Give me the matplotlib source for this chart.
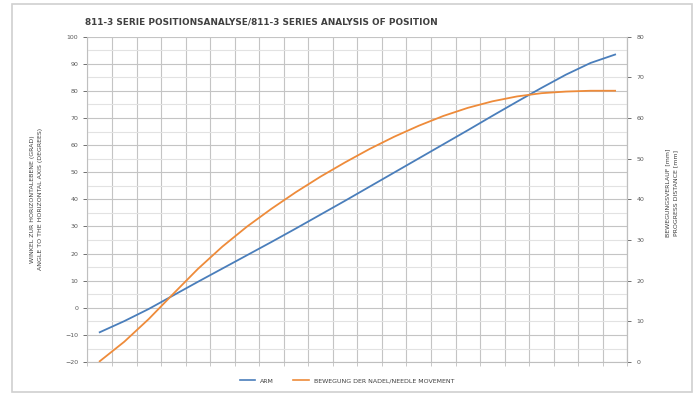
import matplotlib
matplotlib.use("Agg")
import matplotlib.pyplot as plt
import numpy as np
from matplotlib.lines import Line2D
from matplotlib.patches import Rectangle

# values, one per category (22 steps)
arm_angle = [-9.0, -4.9, -0.4, 4.6, 9.6, 14.5, 19.4, 24.3, 29.3, 34.4, 39.5,
             44.7, 49.9, 55.1, 60.3, 65.5, 70.8, 76.0, 81.1, 86.0, 90.3, 93.4]
needle_mm = [0.2, 5.0, 10.6, 16.8, 22.9, 28.4, 33.3, 37.7, 41.8, 45.6, 49.1,
             52.4, 55.4, 58.1, 60.5, 62.5, 64.1, 65.3, 66.1, 66.5, 66.7, 66.7]
left_ticks = list(range(-20, 101, 10))
right_ticks = list(range(0, 81, 10))

title = "811-3 SERIE POSITIONSANALYSE/811-3 SERIES ANALYSIS OF POSITION"
left_label = "WINKEL ZUR HORIZONTALEBENE (GRAD)\nANGLE TO THE HORIZONTAL AXIS (DEGREES)"
right_label = "BEWEGUNGSVERLAUF [mm]\nPROGRESS DISTANCE [mm]"
arm_name = "ARM"
needle_name = "BEWEGUNG DER NADEL/NEEDLE MOVEMENT"

blue = "#4A7EBB"
orange = "#EE8B3A"
grid_major = "#C4C4C4"
grid_minor = "#E2E2E2"
tick_col = "#595959"

fig = plt.figure(figsize=(6.94, 3.94), dpi=100)
fig.patches.append(Rectangle((0.017, 0.004), 0.98, 0.985, transform=fig.transFigure,
                             fill=False, edgecolor="#D0D0D0", lw=1.2))

ax = fig.add_axes([0.126, 0.081, 0.778, 0.826])
n = len(arm_angle)
x = np.arange(n) + 0.5

ax.set_xlim(0, n)
ax.set_ylim(-20, 100)
ax.set_xticks(np.arange(n + 1))
ax.set_xticklabels([])
ax.set_yticks(left_ticks)
ax.set_yticks(np.arange(-15, 100, 10), minor=True)
ax.grid(True, which="major", color=grid_major, lw=0.8)
ax.grid(True, which="minor", axis="y", color=grid_minor, lw=0.8)
ax.set_axisbelow(True)
ax.tick_params(axis="y", labelsize=4.5, colors=tick_col, length=3, width=0.6)
ax.tick_params(axis="y", which="minor", length=0)
ax.tick_params(axis="x", length=3, width=0.6, colors="#BFBFBF")
for s in ax.spines.values():
    s.set_color("#BFBFBF")
    s.set_linewidth(0.8)
ax.spines["top"].set_visible(False)

ax2 = ax.twinx()
ax2.set_ylim(0, 80)
ax2.set_yticks(right_ticks)
ax2.tick_params(axis="y", labelsize=4.5, colors=tick_col, length=3, width=0.6)
for s in ax2.spines.values():
    s.set_visible(False)
ax2.spines["right"].set_visible(True)
ax2.spines["right"].set_color("#BFBFBF")

ax.plot(x, arm_angle, color=blue, lw=1.3, zorder=3)
ax2.plot(x, needle_mm, color=orange, lw=1.3, zorder=3)

ax.set_ylabel(left_label, fontsize=4.5, color="#404040", linespacing=1.8)
ax2.set_ylabel(right_label, fontsize=4.5, color="#404040", rotation=90,
               linespacing=1.8)
ax2.yaxis.set_label_coords(1.07, 0.52)
ax.yaxis.set_label_coords(-0.082, 0.5)

fig.text(0.123, 0.944, title, fontsize=6.4, fontweight="bold", color="#404040",
         ha="left", va="center")

handles = [Line2D([], [], color=blue, lw=1.2), Line2D([], [], color=orange, lw=1.2)]
fig.legend(handles, [arm_name, needle_name], loc="center", bbox_to_anchor=(0.5, 0.033),
           ncol=2, frameon=False, fontsize=4.5, handlelength=2.5, columnspacing=3,
           labelcolor="#404040")

fig.savefig("out.png", dpi=100)
